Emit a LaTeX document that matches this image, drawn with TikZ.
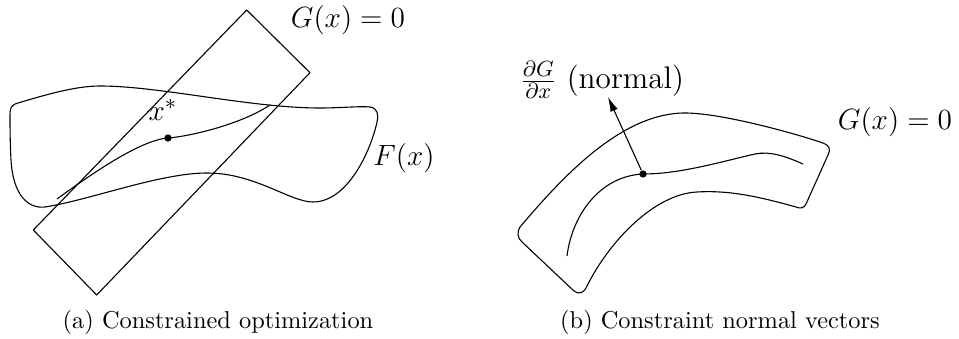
\documentclass[tikz,border=0pt]{standalone}
\usetikzlibrary{arrows.meta}
\begin{document}
\begin{tikzpicture}[x=0.41pt,y=-0.41pt,
  curve/.style={line width=0.45pt, line join=round},
  pt/.style={circle, fill=black, inner sep=0pt, minimum size=3pt},
  lbl/.style={inner sep=0pt, font=\fontsize{12.8}{15}\selectfont},
  captxt/.style={inner sep=0pt, font=\normalsize}]
\useasboundingbox (0,0) rectangle (959,339);
% ---------------- (a) ----------------
\draw[curve] (246.7,10) coordinate (r1) -- (310,72.7) coordinate (r2) -- (96.7,295) coordinate (r3) -- (33.3,230) coordinate (r4) -- cycle;
\draw[curve] (10,115) .. controls (10,108) and (11,105) .. (18,103)
  .. controls (45,95) and (75,86) .. (100,86)
  .. controls (160,86) and (250,108) .. (320,108)
  .. controls (340,108) and (360,106) .. (370,107)
  .. controls (377,108) and (379,114) .. (377,122)
  .. controls (371,150) and (348,202) .. (313,202)
  .. controls (290,202) and (255,173) .. (207,173)
  .. controls (160,173) and (90,200) .. (45,207)
  .. controls (28,209) and (13,195) .. (11,160)
  .. controls (10,140) and (10,125) .. cycle;
\draw[curve] (57,199) .. controls (90,175) and (140,140) .. (168,138)
  .. controls (188,136.6) and (240,125) .. (270,105);
\node[pt] (xs) at (168,138) {};
\node[lbl] (xslbl) at (163,110) {$x^*$};
\node[lbl] (ga) at (348,20) {$G(x) = 0$};
\node[lbl] (fa) at (404,158) {$F(x)$};
\node[captxt] (capa) at (218,322) {(a) Constrained optimization};
% ---------------- (b) ----------------
\draw[curve] (520,227) .. controls (560,180) and (620,113) .. (685,113)
  .. controls (720,113) and (790,132) .. (820,142)
  .. controls (830,145) and (831,149) .. (828,155)
  -- (806,204)
  .. controls (804,208) and (801,209) .. (796,207)
  .. controls (760,197) and (730,190) .. (697,192)
  .. controls (655,194) and (610,240) .. (587,286)
  .. controls (584,293) and (579,295) .. (574,291)
  -- (522,242)
  .. controls (517,238) and (517,231) .. cycle;
\draw[curve] (567,256) .. controls (572,215) and (600,176) .. (643,174)
  .. controls (680,174) and (720,162) .. (755,154)
  .. controls (770,151) and (785,156) .. (803,164);
\node[pt] (p) at (643,174) {};
\coordinate (ntip) at (608,97);
\draw[curve, -{Latex[length=6pt,width=3.2pt]}] (p) -- (ntip);
\node[lbl] (nl) at (602,80) {$\frac{\partial G}{\partial x}$ (normal)};
\node[lbl] (gb) at (895,122) {$G(x) = 0$};
\node[captxt] (capb) at (720,322) {(b) Constraint normal vectors};
\end{tikzpicture}
\end{document}
